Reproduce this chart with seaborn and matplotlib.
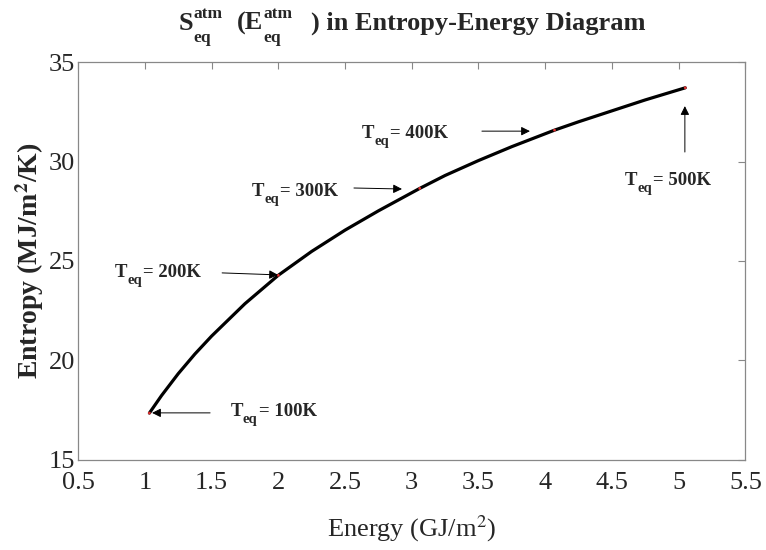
import matplotlib
matplotlib.use("Agg")
import matplotlib.pyplot as plt
from matplotlib.transforms import IdentityTransform
import seaborn as sns
import pandas as pd

# Curve
energy = [1.034, 1.125, 1.25, 1.375, 1.5, 1.75, 2.0, 2.25, 2.5, 2.75, 3.06, 3.25,
          3.5, 3.75, 4.07, 4.25, 4.5, 4.75, 5.05]
entropy = [17.35, 18.23, 19.33, 20.32, 21.22, 22.85, 24.28, 25.48, 26.55, 27.52,
           28.65, 29.3, 30.05, 30.75, 31.58, 32.0, 32.55, 33.1, 33.71]

# Marked equilibrium temperatures
temp_labels = ["100K", "200K", "300K", "400K", "500K"]
temp_energy = [1.034, 2.0, 3.06, 4.07, 5.05]
temp_entropy = [17.35, 24.28, 28.65, 31.58, 33.71]

x_ticks = [0.5, 1, 1.5, 2, 2.5, 3, 3.5, 4, 4.5, 5, 5.5]
y_ticks = [15, 20, 25, 30, 35]

sns.set_style("white")
plt.rcParams["font.family"] = ["Liberation Serif", "DejaVu Serif"]
plt.rcParams["mathtext.fontset"] = "stix"

fig = plt.figure(figsize=(7.66, 5.5), dpi=100)
ax = fig.add_axes([0.102, 0.164, 0.871, 0.723])

df = pd.DataFrame({"E": energy, "S": entropy})
sns.lineplot(data=df, x="E", y="S", ax=ax, color="black", lw=2.3, sort=False)
pts = pd.DataFrame({"E": temp_energy, "S": temp_entropy})
sns.scatterplot(data=pts, x="E", y="S", ax=ax, color="#e03030", s=4, edgecolor="none", zorder=3)

ax.set_xlim(0.5, 5.5)
ax.set_ylim(15, 35)
ax.set_xticks(x_ticks)
ax.set_xticklabels([f"{t:g}" for t in x_ticks])
ax.set_yticks(y_ticks)
ax.tick_params(direction="in", length=5, width=0.8, color="#888888",
               labelsize=19, top=True, right=True, pad=2)
ax.tick_params(axis="x", pad=9)
for s in ax.spines.values():
    s.set_color("#888888")
    s.set_linewidth(0.9)

ax.set_xlabel("Energy (GJ/m$^2$)", fontsize=19, labelpad=14)
ax.set_ylabel(r"Entropy (MJ/m$^\mathbf{2}$/K)", fontsize=20, fontweight="bold", labelpad=2)

renderer = fig.canvas.get_renderer()
ID = IdentityTransform()


def put(x, y, s, size):
    t = fig.text(x, y, s, fontsize=size, fontweight="bold", ha="left",
                 va="baseline", transform=ID)
    return t, t.get_window_extent(renderer).width


# ---- title with stacked super/subscripts (built in pixels) ----
def title_pieces(x0, y0, draw=True):
    x = x0
    created = []
    for base, gap_after in (("S", 15), ("(E", 18)):
        t, w = put(x, y0, base, 19)
        created.append(t)
        x += w
        t1, w1 = put(x, y0 + 12, "atm", 12.5)
        t2, w2 = put(x, y0 - 12, "eq", 12.5)
        created += [t1, t2]
        x += max(w1, w2) + gap_after
    t, w = put(x, y0, ") in Entropy-Energy Diagram", 19)
    created.append(t)
    x += w
    if not draw:
        for c in created:
            c.remove()
    return x - x0


title_y = 520
w_total = title_pieces(0, title_y, draw=False)
ax_bb = ax.get_window_extent(renderer)
title_pieces((ax_bb.x0 + ax_bb.x1) / 2 - w_total / 2, title_y)

# ---- annotations ----
text_pos = [(1.64, 17.2), (0.777, 24.2), (1.803, 28.27), (2.627, 31.18), (4.597, 28.82)]
arrow_from = [(1.489, 17.36), (1.579, 24.4), (2.567, 28.67), (3.526, 31.53), (5.047, 30.48)]
arrow_to = [(1.054, 17.36), (1.998, 24.3), (2.927, 28.62), (3.886, 31.53), (5.047, 32.79)]

for lab, tp, af, at in zip(temp_labels, text_pos, arrow_from, arrow_to):
    px, py = ax.transData.transform(tp)
    t, w = put(px, py, "T", 13.5)
    t2, w2 = put(px + w, py - 7, "eq", 10.5)
    put(px + w + w2 + 1, py, "= " + lab, 13.5)
    ax.annotate("", xy=at, xytext=af,
                arrowprops=dict(arrowstyle="-|>", color="black", lw=0.7,
                                mutation_scale=13, shrinkA=0, shrinkB=0))

fig.savefig("out.png", dpi=100)
